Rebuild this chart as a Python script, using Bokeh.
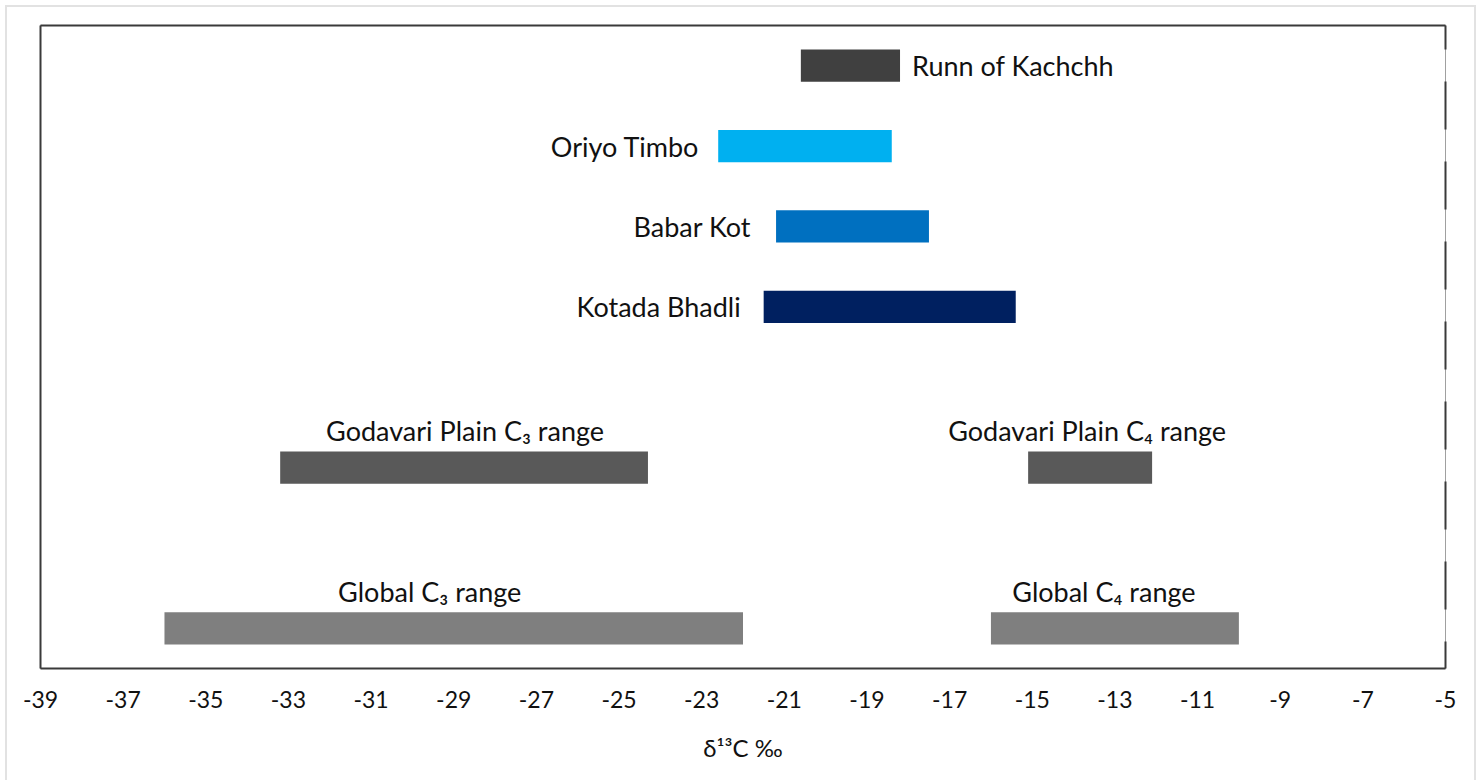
from bokeh.plotting import figure
from bokeh.models import Range1d, FixedTicker, LinearAxis, ColumnDataSource
from bokeh.core.properties import value
from bokeh.embed import file_html
from bokeh.resources import INLINE

# delta-13C ranges (per mil) for each site / reference range
sites = ["Runn of Kachchh", "Oriyo Timbo", "Babar Kot", "Kotada Bhadli",
         "Godavari Plain C\u2083 range", "Godavari Plain C\u2084 range",
         "Global C\u2083 range", "Global C\u2084 range"]
d13c_min = [-20.6, -22.6, -21.2, -21.5, -33.2, -15.1, -36.0, -16.0]
d13c_max = [-18.2, -18.4, -17.5, -15.4, -24.3, -12.1, -22.0, -10.0]
row = [1, 2, 3, 4, 6, 6, 8, 8]

bar_colors = ["#404040", "#00b0f0", "#0070c0", "#002060",
              "#595959", "#595959", "#7f7f7f", "#7f7f7f"]

tick_values = [-39, -37, -35, -33, -31, -29, -27, -25, -23, -21, -19,
               -17, -15, -13, -11, -9, -7, -5]
tick_labels = ["-39", "-37", "-35", "-33", "-31", "-29", "-27", "-25", "-23",
               "-21", "-19", "-17", "-15", "-13", "-11", "-9", "-7", "-5"]

FONT = "Lato"
LABEL_SIZE = "27px"
W, H = 1483, 780

p = figure(width=W, height=H, output_backend="svg", toolbar_location=None,
           x_range=Range1d(-39, -5), y_range=Range1d(8.5, 0.5),
           y_axis_location=None, x_axis_location="below",
           min_border_left=40, min_border_right=38,
           min_border_top=25, min_border_bottom=112)
p.grid.visible = False
p.background_fill_color = "white"
p.border_fill_color = None
p.outline_line_color = "#a0a0a0"
p.outline_line_width = 1

# faint page border painted behind the transparent canvas margin
edge = "linear-gradient(#e2e2e2, #e2e2e2)"
p.styles = {
    "background": (f"{edge} 5px 5px / 2px 100% no-repeat, "
                   f"{edge} 5px 5px / 1470px 2px no-repeat, "
                   f"{edge} 1474px 5px / 2px 100% no-repeat, white"),
}

# bottom axis
ax = p.xaxis[0]
ax.ticker = FixedTicker(ticks=tick_values)
ax.major_label_overrides = {t: s for t, s in zip(tick_values, tick_labels)}
ax.major_tick_line_color = None
ax.minor_tick_line_color = None
ax.major_tick_out = 0
ax.major_label_standoff = 22
ax.major_label_text_font = FONT
ax.major_label_text_font_size = "23px"
ax.major_label_text_color = "#111111"
ax.axis_line_color = "#3a3a3a"
ax.axis_line_width = 2
ax.axis_label = "\u03b4\u00b9\u00b3C \u2030"
ax.axis_label_text_font = FONT
ax.axis_label_text_font_size = "24px"
ax.axis_label_text_font_style = "normal"
ax.axis_label_text_color = "#111111"
ax.axis_label_standoff = 22


def frame_edge(side, dash="solid", offset=0):
    a = LinearAxis(ticker=FixedTicker(ticks=[]), axis_line_color="#3a3a3a",
                   axis_line_width=2, axis_line_dash=dash,
                   axis_line_dash_offset=offset,
                   major_tick_line_color=None, minor_tick_line_color=None,
                   major_label_text_font_size="0px")
    p.add_layout(a, side)


frame_edge("left")
frame_edge("above")
frame_edge("right", dash="48 32", offset=24)

src = ColumnDataSource(dict(site=sites, lo=d13c_min, hi=d13c_max, row=row,
                            color=bar_colors))
p.hbar(y="row", left="lo", right="hi", height=0.4, source=src,
       fill_color="color", line_color=None)

text_style = dict(text_font=value(FONT), text_font_size=LABEL_SIZE,
                  text_color="#111111", text_baseline="middle")

# label to the right of the bar
i = 0
p.text(x=[d13c_max[i]], y=[row[i]], text=[sites[i]], x_offset=12,
       text_align="left", **text_style)

# labels to the left of the bars
for i, dx in zip([1, 2, 3], [-19, -25, -23]):
    p.text(x=[d13c_min[i]], y=[row[i]], text=[sites[i]], x_offset=dx,
           text_align="right", **text_style)

# labels centred above the range bars
for i, dx in zip([4, 5, 6, 7], [1, -3, -24, -11]):
    p.text(x=[(d13c_min[i] + d13c_max[i]) / 2], y=[row[i]], text=[sites[i]],
           x_offset=dx, y_offset=-37, text_align="center", **text_style)

open("out.html", "w").write(file_html(p, INLINE))
